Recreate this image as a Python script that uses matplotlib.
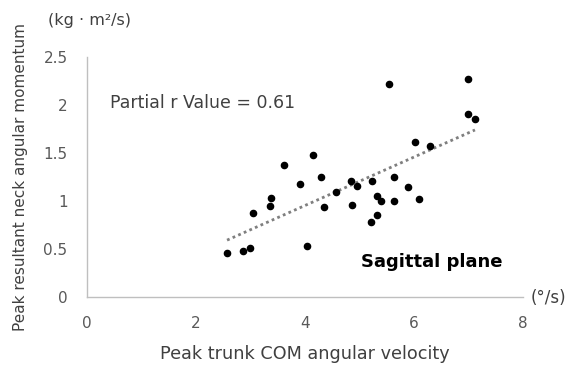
import matplotlib.pyplot as plt
import numpy as np

# peak trunk COM angular velocity (deg/s) and peak neck angular momentum (kg*m^2/s)
velocity = [5.55, 6.99, 6.99, 7.12, 6.02, 6.29, 4.14, 3.62, 4.30, 3.90, 4.84,
            4.95, 5.23, 5.63, 5.89, 4.57, 3.38, 3.35, 4.35, 4.87, 5.33, 5.39,
            5.63, 6.10, 3.05, 5.32, 5.21, 4.03, 2.99, 2.86, 2.57]
momentum = [2.22, 2.27, 1.91, 1.85, 1.61, 1.57, 1.48, 1.37, 1.25, 1.18, 1.21,
            1.16, 1.21, 1.25, 1.15, 1.09, 1.03, 0.95, 0.94, 0.96, 1.05, 1.00,
            1.00, 1.02, 0.88, 0.85, 0.78, 0.53, 0.51, 0.48, 0.46]

x_ticks = [0, 2, 4, 6, 8]
y_ticks = [0, 0.5, 1, 1.5, 2, 2.5]

fig = plt.figure(figsize=(5.82, 3.68), dpi=100)
ax = fig.add_axes([0.1495, 0.193, 0.749, 0.652])

x = np.array(velocity)
y = np.array(momentum)
ax.scatter(x, y, s=20, color='black', zorder=3)

# linear trend line
k, b = np.polyfit(x, y, 1)
xs = np.array([x.min(), x.max()])
ax.plot(xs, k * xs + b, linestyle=(0, (1, 1.2)), color='#7f7f7f', linewidth=2)

ax.set_xlim(0, 8)
ax.set_ylim(0, 2.5)
ax.set_xticks(x_ticks)
ax.set_xticklabels([str(t) for t in x_ticks])
ax.set_yticks(y_ticks)
ax.set_yticklabels(['0', '0.5', '1', '1.5', '2', '2.5'])
ax.tick_params(length=0, labelsize=11, colors='#595959', pad=14)

for s in ['top', 'right']:
    ax.spines[s].set_visible(False)
for s in ['left', 'bottom']:
    ax.spines[s].set_color('#bfbfbf')
    ax.spines[s].set_linewidth(1)

ax.set_xlabel('Peak trunk COM angular velocity', fontsize=12.7, color='#404040', labelpad=10)
ax.set_ylabel('Peak resultant neck angular momentum', fontsize=11, color='#404040', labelpad=11)

fig.text(48 / 582, 1 - 20 / 368, '(kg · m²/s)', fontsize=11.5, color='#404040', va='center')
fig.text(531 / 582, 1 - 298 / 368, '(°/s)', fontsize=12, color='#404040', va='center')
ax.text(0.42, 2.02, 'Partial r Value = 0.61', fontsize=12.5, color='#404040', va='center')
ax.text(5.02, 0.36, 'Sagittal plane', fontsize=13, fontweight='bold', color='black', va='center')

fig.savefig('out.png', dpi=100)
